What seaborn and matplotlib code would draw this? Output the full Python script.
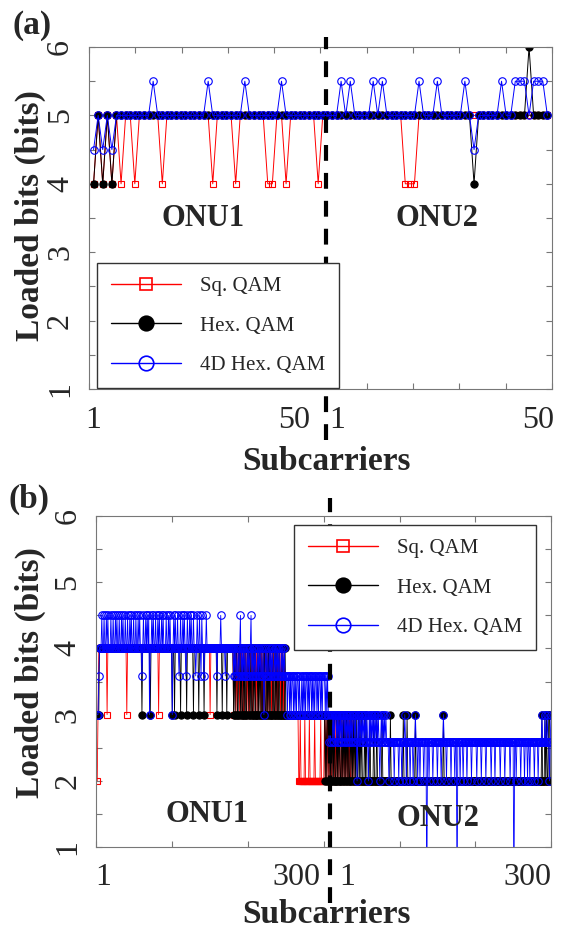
import numpy as np
import matplotlib
matplotlib.use("Agg")
import matplotlib.pyplot as plt
import matplotlib.transforms as mtransforms
from matplotlib.lines import Line2D
import seaborn as sns

# --------------------------------------
# DATA  (one character per subcarrier)
# --------------------------------------

LEVELS = {"0": 0.0, "2": 2.0, "p": 2.585, "3": 3.0, "q": 3.585,
          "4": 4.0, "h": 4.5, "5": 5.0, "H": 5.5, "6": 6.0}

series_names = ["Sq. QAM", "Hex. QAM", "4D Hex. QAM"]

# (a) 50 + 50 subcarriers
sq_a = ("4545454554 5555545555 5555554555 5455555544 5545555554"
        "5555555555 5555555544 4555555555 5555555555 5555555555")
hex_a = ("4545455555 5555555555 5555555555 5555555555 5555555555"
         "5555555555 5555555555 5555555555 5554555555 5555565555")
hex4d_a = ("h5h5h55555 555H555555 55555H5555 555H555555 5H55555555"
           "5555H5H555 5H5H555555 5H555H5555 5H5h55555H 55HHH5HHH5")

# (b) 300 + 300 subcarriers
sq_b_onu1 = ("2344444444 4443444444 4444444444 4444444443 4444444444"
             "4444444444 4444444444 4444444444 4344444444 4444444444"
             "4444444444 4444444444 4444444444 4444444444 4444444443"
             "4444444444 4444444444 4444444444 3443434434 4343344343"
             "4344343443 4343443434 3443434344 3434434343 4434343433"
             "3333333333 3333332232 2222322222 3222222322 2222232222")
sq_b_onu2 = ("3232323232 2332323232 3223232323 2323223232 2222222222"
             "2222222222 2222222222 2222222222 2222222222 2222222222"
             "2222222222 2222222222 2222222222 2222222222 2222222222"
             "2222222222 2222222222 2222222222 2222222222 2222222222"
             "2222222222 2222222222 2222222222 2222222222 2222222222"
             "2222222222 2222222222 2222222222 2222222222 2222222222")
hex_b_onu1 = ("3334444444 4444444444 4444444444 4444444444 4444444444"
              "4444444443 4444444444 3444444444 4444444444 4444444443"
              "4434444444 3444444434 4444444344 4444344444 4344444444"
              "4444444434 4444434444 4344444444 3434433443 4334343344"
              "3434334343 3343434334 3433434343 3343343433 4333433343"
              "3333333333 3333333333 3333333333 3333333333 3333333333")
hex_b_onu2 = ("3232332323 2323223232 3223232323 2322323232 3232232323"
              "2223232222 3222232223 2222223222 2222222322 2222222222"
              "2222322223 2222222222 3222222222 2222222222 2222222222"
              "2222222322 2222222222 2222222222 2222222222 2222222222"
              "2222222222 2222222222 2222222222 2222222222 2222222222"
              "2222222222 2222222222 2222222222 2222222322 2323223322")
hex4d_b_onu1 = ("33q444h44h 44h4h444h4 4h44h4h44h 44h4h44h44 h44h4h44h4"
                "4h44h4h44q 4h44h4h4h3 44h4h44h44 h4h44h4h44 4h44h4h443"
                "4h4h44h4q4 h44h4h4q4h 44h4h44h44 q4h44h4qh4 4q44h44444"
                "44444444q4 444h44444q 4444444444 q4q4qq4q4h q4q4q4qq4q"
                "4q4hq4q4q4 qq4q4q4qq4 3q4q4qq4q4 q4qq4q4q4q 4qq4q4q4qq"
                "q3qq3q3qq3 q3q3qq3q33 q3q3q3qq3q 3qq3q3q3qq 3q3qq3q3qq")
hex4d_b_onu2 = ("q3q3q3p3p3 3p3p33p3p3 p3p3p33p3p 3p3p3p3p33 p3p23p3p3p"
                "3p3p3p3p23 p3p3p3p3p3 p3p2p3p3p3 p3ppp2pppp pp2ppppp2p"
                "pp2ppp3p2p ppp2ppp2pp 3pp2pp2ppp p2ppp0pp2p ppp2ppppp2"
                "pppp2pp3pp p2ppppp2pp pp2pp0ppp2 ppp2pppp2p pppp2ppppp"
                "p2ppppp2pp ppp2pppppp 2pppp2pppp pp2ppppp2p ppppp2pppp"
                "0pp2ppppp2 pppp2ppp2p p2ppppp2pp pp2pppp3pp p3pp3pp2p3")

# x tick texts (label, position)
xlabels_a = [("1", 1), ("50", 44.7), ("1", 54.1), ("50", 98)]
xlabels_b = [("1", 9), ("300", 264), ("1", 331), ("300", 569)]


def decode(code):
    return [LEVELS[c] for c in code.replace(" ", "")]


STYLES = [
    dict(color="red", marker="s", markerfacecolor="none", markeredgecolor="red"),
    dict(color="black", marker="o", markerfacecolor="black", markeredgecolor="black"),
    dict(color="blue", marker="o", markerfacecolor="none", markeredgecolor="blue"),
]
MARKER_SIZES = [4.8, 5.2, 5.4]

sns.set_style("ticks")
plt.rcParams["font.family"] = ["Liberation Serif", "DejaVu Serif"]

fig = plt.figure(figsize=(5.61, 9.31), dpi=100)
ax_a = fig.add_axes([0.1586, 0.5822, 0.8253, 0.3673])
ax_b = fig.add_axes([0.1720, 0.0902, 0.8102, 0.3555])


def draw_panel(ax, series, xs, lw):
    for vals, st, ms in zip(series, STYLES, MARKER_SIZES):
        sns.lineplot(
            x=xs, y=vals, ax=ax,
            estimator=None, sort=False,
            linewidth=lw, markersize=ms, markeredgewidth=0.8,
            **st
        )


def style_axes(ax, xmax, step, xlabels, dash_x, dash_span):
    ax.set_xlim(0, xmax)
    ax.set_ylim(1, 6)
    ax.set_xticks(np.linspace(0, xmax, int(round(xmax / step)) + 1))
    ax.tick_params(axis="x", labelbottom=False)
    ax.set_yticks([1, 2, 3, 4, 5, 6])
    ax.set_yticks([1.5, 2.5, 3.5, 4.5, 5.5], minor=True)
    ax.set_yticklabels(["1", "2", "3", "4", "5", "6"], rotation=90,
                       va="center", fontsize=23)
    ax.tick_params(which="both", direction="in", length=4, width=0.8,
                   color="#777777", top=True, right=True, pad=10)
    for sp in ax.spines.values():
        sp.set_color("#777777")
        sp.set_linewidth(0.8)
    ax.set_xlabel("")
    ax.set_ylabel("")
    trans = mtransforms.blended_transform_factory(ax.transData, ax.transAxes)
    for txt, xpos in xlabels:
        ax.text(xpos, -0.092, txt, transform=trans, ha="center", va="center",
                fontsize=23)
    ax.axvline(dash_x, ymin=dash_span[0], ymax=dash_span[1], color="black",
               lw=3, linestyle=(0, (3.8, 2.9)), clip_on=False, zorder=4)


def add_legend(ax, bbox):
    handles = [
        Line2D([], [], lw=1.0, ms=ms, markeredgewidth=1.2, **st)
        for st, ms in zip(STYLES, [8.5, 10.5, 10.5])
    ]
    leg = ax.legend(handles, series_names, loc="upper left",
                    bbox_to_anchor=bbox, bbox_transform=fig.transFigure,
                    fontsize=15, handlelength=3.4, handletextpad=0.9,
                    borderpad=0.65, labelspacing=0.95, frameon=True,
                    fancybox=False, framealpha=1, borderaxespad=0)
    leg.get_frame().set_edgecolor("#333333")
    leg.get_frame().set_linewidth(1.0)
    leg.set_zorder(6)


# --------------------------------------
# PANEL (a)
# --------------------------------------
series_a = [decode(sq_a), decode(hex_a), decode(hex4d_a)]
xs_a = list(range(1, len(series_a[0]) + 1))
draw_panel(ax_a, series_a, xs_a, 0.7)
style_axes(ax_a, 101, 10.1, xlabels_a, 51.7, (-0.15, 1.03))
add_legend(ax_a, (97 / 561, 1 - 263 / 931))

# --------------------------------------
# PANEL (b)
# --------------------------------------
series_b = [decode(sq_b_onu1) + decode(sq_b_onu2),
            decode(hex_b_onu1) + decode(hex_b_onu2),
            decode(hex4d_b_onu1) + decode(hex4d_b_onu2)]
xs_b = list(range(1, len(series_b[0]) + 1))
draw_panel(ax_b, series_b, xs_b, 0.6)
style_axes(ax_b, 600, 100, xlabels_b, 307.6, (-0.17, 1.055))
add_legend(ax_b, (294 / 561, 1 - 525 / 931))

# texts in figure coordinates
fig.text(13 / 561, 1 - 10 / 931, "(a)", ha="left", va="top", fontsize=24,
         fontweight="bold")
fig.text(8 / 561, 1 - 484 / 931, "(b)", ha="left", va="top", fontsize=24,
         fontweight="bold")
for yc in (216, 673):
    fig.text(30 / 561, 1 - yc / 931, "Loaded bits (bits)", rotation=90,
             ha="center", va="center", fontsize=24, fontweight="bold")
for yb in (470, 923):
    fig.text(327 / 561, 1 - yb / 931, "Subcarriers", ha="center",
             va="baseline", fontsize=24, fontweight="bold")
for xc, yc, name in [(203, 218, "ONU1"), (437, 218, "ONU2"),
                     (207, 815, "ONU1"), (438, 818, "ONU2")]:
    fig.text(xc / 561, 1 - yc / 931, name, ha="center", va="center",
             fontsize=22, fontweight="bold")

fig.savefig("out.png", dpi=100)
